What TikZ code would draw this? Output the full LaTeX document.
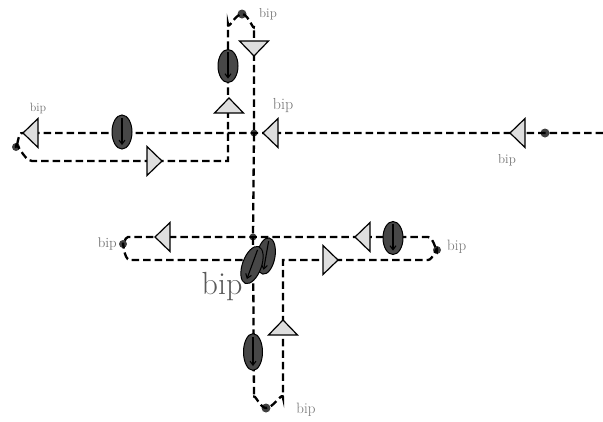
\documentclass[tikz,border=0pt]{standalone}
\usetikzlibrary{arrows.meta}

\tikzset{
  dashline/.style={line width=2.3pt, dash pattern=on 7.5pt off 4pt},
  dotmark/.style={circle, fill=black!75, inner sep=0pt, minimum size=9pt},
  biplabel/.style={text=black!55, inner sep=0pt, font=\fontsize{10}{11}\selectfont},
  marktri/.pic={\draw[line width=1.2pt, fill=black!13, line join=miter] (0,0) -- (15,14.5) -- (15,-14.5) -- cycle;},
  markoval/.pic={\draw[line width=1pt, fill=black!72] (0,0) ellipse (10 and 17);
    \draw[line width=1.1pt, -{Straight Barb[length=4pt,width=6pt]}] (0,14) -- (0,-13);}
}

\begin{document}
\begin{tikzpicture}[x=1pt,y=1pt,yscale=-1,xscale=1]
        \useasboundingbox (0,0) rectangle (603,421);

        % Dots
        \node[dotmark] (dTop) at (242,14) {};
        \node[dotmark, minimum size=8pt] (dLeft) at (16,147) {};
        \node[dotmark] (dRight) at (545,133) {};
        \node[dotmark, minimum size=7pt] (dMid) at (254,133) {};
        \node[dotmark, minimum size=7pt] (dCross) at (253,237) {};
        \node[dotmark, minimum size=8pt] (dLowLeft) at (123,244) {};
        \node[dotmark, minimum size=8pt] (dLowRight) at (437,250) {};
        \node[dotmark] (dBottom) at (266,408) {};

        %Dashed Lines
        \draw[dashline] (603,133) -- (dRight.center) -- (23,133) to[out=200,in=80] (dLeft.center) to[out=-90,in=180] (32,161) -- (228,161) -- (228,24) to[out=90,in=180] (dTop.center) to[out=0,in=90] (254,26) -- (dMid.center) -- (dCross.center) -- (254,398) to[out=-90,in=180] (dBottom.center) to[out=0,in=-90] (283,398) -- (283,260) -- (428,260) to[out=0,in=-90] (dLowRight.center) to[out=90,in=0] (428,237) -- (dCross.center) -- (128,237) to[out=180,in=90] (dLowLeft.center) to[out=-90,in=180] (130,260) -- (254,260);

        % Triangles
        \pic at (23,133) {marktri};
        \pic at (263,133) {marktri};
        \pic at (510,133) {marktri};
        \pic[rotate=180] at (162,161) {marktri};
        \pic[rotate=-90] at (229,98) {marktri};
        \pic[rotate=90] at (254,56) {marktri};
        \pic at (155,237) {marktri};
        \pic at (355,237) {marktri};
        \pic[rotate=180] at (338,260) {marktri};
        \pic[rotate=-90] at (283,320) {marktri};

        % Ovals
        \pic at (122,132) {markoval};
        \pic[yscale=0.97] at (228,66) {markoval};
        \pic[yscale=0.97] at (393,238) {markoval};
        \pic[xscale=0.95,yscale=1.08] at (253,352) {markoval};
        \pic[rotate=-10,xscale=0.9,yscale=1.08] at (266,256) {markoval};
        \pic[rotate=-20,xscale=0.95,yscale=1.15] at (252,265) {markoval};

        % Text Nodes
        \node[biplabel, font=\fontsize{13}{14}\selectfont] (lTop) at (268,14) {bip};
        \node[biplabel, font=\fontsize{12}{13}\selectfont] (lLeft) at (38,108) {bip};
        \node[biplabel, font=\fontsize{16}{17}\selectfont] (lMid) at (283,106) {bip};
        \node[biplabel, font=\fontsize{13}{14}\selectfont] (lRight) at (507,160) {bip};
        \node[biplabel, font=\fontsize{14}{15}\selectfont, anchor=east] (lLowLeft) at (117,244) {bip};
        \node[biplabel, font=\fontsize{15}{16}\selectfont, anchor=west] (lLowRight) at (447,247) {bip};
        \node[biplabel, font=\fontsize{15}{16}\selectfont] (lBottom) at (306,410) {bip};
        \node[biplabel, text=black!65, font=\fontsize{32}{34}\selectfont] (lBig) at (222,287) {bip};

\end{tikzpicture}
\end{document}
